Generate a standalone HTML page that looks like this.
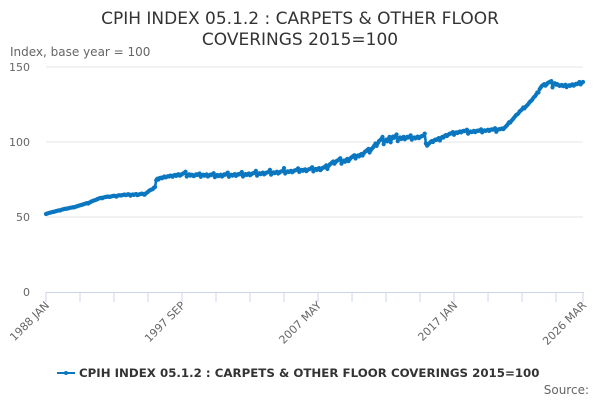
<!DOCTYPE html>
<html><head><meta charset="utf-8"><style>
body{margin:0;background:#fff;font-family:"Liberation Sans","DejaVu Sans",sans-serif}
svg{display:block}
</style></head><body>
<svg id="chart" width="600" height="400" viewBox="0 0 600 400">
<text x="300" y="24" text-anchor="middle" font-size="17" fill="#333" font-family="DejaVu Sans, sans-serif">CPIH INDEX 05.1.2 : CARPETS &amp; OTHER FLOOR</text>
<text x="300" y="45" text-anchor="middle" font-size="17" fill="#333" font-family="DejaVu Sans, sans-serif">COVERINGS 2015=100</text>
<text x="10" y="56" font-size="12" fill="#666" font-family="DejaVu Sans, sans-serif">Index, base year = 100</text>
<g id="grid"></g><g id="xaxis"></g><g id="series"></g>
<g>
<line x1="57" y1="373" x2="75" y2="373" stroke="#0a77c0" stroke-width="2"/>
<circle cx="66" cy="373" r="2" fill="#0a77c0"/>
<text x="79" y="377" font-size="11.8" font-weight="bold" fill="#333" font-family="DejaVu Sans, sans-serif">CPIH INDEX 05.1.2 : CARPETS &amp; OTHER FLOOR COVERINGS 2015=100</text>
</g>
<text x="589" y="394" text-anchor="end" font-size="12" fill="#666" font-family="DejaVu Sans, sans-serif">Source:</text>
</svg>
<script>
const yTicks=[0,50,100,150];
const xLabels=["1988 JAN","1997 SEP","2007 MAY","2017 JAN","2026 MAR"];
const xLabelIdx=[0,116,232,348,458];
const values=[
52.0,52.3,52.6,52.8,53.0,53.2,53.4,53.5,53.8,54.0,54.2,54.4,
54.3,54.8,55.0,55.2,55.4,55.5,55.6,55.8,56.0,56.2,56.3,56.5,
56.4,56.8,57.0,57.3,57.6,57.8,58.0,58.2,58.5,58.8,59.0,59.3,
59.0,59.6,60.0,60.4,60.8,61.0,61.3,61.6,62.0,62.3,62.6,62.8,
62.5,63.0,63.2,63.4,63.5,63.6,63.4,63.6,63.8,64.0,64.2,64.0,
63.6,64.2,64.4,64.5,64.3,64.6,64.8,65.0,64.6,64.8,65.2,65.0,
64.2,64.8,65.0,64.7,65.1,65.3,64.6,64.9,65.2,65.4,65.6,65.2,
64.8,65.6,66.2,66.8,67.5,68.0,68.3,68.6,69.5,70.0,74.5,75.5,
75.0,76.0,76.2,75.8,76.5,77.0,76.4,76.8,77.2,77.0,77.6,77.4,
76.8,77.8,78.0,77.4,78.2,78.5,77.6,78.0,78.6,79.0,79.4,80.2,
77.0,78.0,78.4,77.6,78.2,78.0,77.2,77.8,78.4,78.0,78.6,79.0,
76.8,77.8,78.2,77.6,78.0,78.4,77.0,77.6,78.2,78.0,78.6,79.2,
76.6,77.6,78.0,77.2,77.8,78.2,77.0,77.6,78.4,78.2,78.8,79.6,
76.8,77.8,78.2,77.6,78.2,78.6,77.4,78.0,78.6,78.4,79.0,80.0,
77.0,78.2,78.6,78.0,78.6,79.0,77.8,78.4,79.0,79.2,79.6,80.8,
77.6,78.8,79.2,78.6,79.2,79.6,78.4,79.0,79.6,79.8,80.2,81.4,
78.2,79.4,79.8,79.2,79.8,80.2,79.0,79.6,80.2,80.4,80.8,82.6,
79.0,80.0,80.4,80.0,80.4,80.8,79.8,80.4,81.0,81.2,81.6,82.4,
80.0,81.0,81.4,80.8,81.4,81.8,80.6,81.2,81.8,82.0,82.4,83.2,
80.4,81.6,82.0,81.4,82.2,82.6,81.2,82.0,82.8,83.0,83.6,84.4,
82.0,84.0,85.0,85.6,86.4,87.0,85.6,86.6,87.4,87.8,88.4,89.2,
85.6,87.0,87.6,86.8,88.0,88.8,87.2,88.4,89.4,90.0,90.6,91.2,
89.0,90.4,91.0,90.4,91.4,92.0,91.0,92.4,93.4,94.0,94.6,95.4,
93.0,94.6,95.6,96.4,97.6,99.0,97.4,99.2,100.6,101.2,102.0,103.4,
98.6,100.6,101.6,100.4,102.0,103.4,99.8,102.2,103.6,102.8,104.0,105.0,
100.6,102.4,103.0,102.0,102.8,103.4,101.8,102.6,103.4,103.0,103.6,104.4,
101.6,102.6,103.0,102.4,103.0,103.6,102.6,103.2,103.8,104.0,104.4,105.6,
99.0,97.6,98.4,99.2,100.0,100.6,100.0,101.0,101.6,101.4,102.0,102.6,
101.0,102.6,103.4,103.0,104.0,104.6,104.0,104.8,105.4,105.6,106.0,106.6,
104.8,106.0,106.4,106.0,106.6,107.0,106.4,107.0,107.4,107.2,107.6,108.2,
105.6,106.6,107.0,106.6,107.0,107.4,106.6,107.2,107.6,107.4,107.8,108.4,
106.4,107.4,107.8,107.4,107.8,108.2,107.4,108.0,108.4,108.2,108.6,109.2,
106.8,108.0,108.4,108.6,108.8,109.0,108.6,109.4,110.2,111.0,112.0,113.2,
113.0,114.2,115.0,116.0,117.0,118.0,118.4,119.2,120.4,121.0,121.8,123.0,
122.4,123.4,124.2,125.0,126.0,127.0,127.6,128.6,129.8,130.4,131.6,133.0,
133.0,135.2,136.4,137.4,138.0,138.6,137.6,138.4,139.4,139.8,140.2,140.6,
136.4,138.6,139.2,138.2,138.6,138.0,137.4,137.8,138.0,137.2,137.6,138.2,
136.6,137.4,137.8,137.4,138.0,138.4,137.6,138.2,138.8,138.6,139.2,140.0,
138.4,139.6,140.0];
const NS="http://www.w3.org/2000/svg";
const X0=46,X1=583,Y0=292,Y1=67;
const n=values.length;
function xs(i){return X0+(X1-X0)*i/(n-1);}
function ys(v){return Y0-(Y0-Y1)*v/150;}
function mk(t,a,p){const e=document.createElementNS(NS,t);for(const k in a)e.setAttribute(k,a[k]);p.appendChild(e);return e;}
const grid=document.getElementById('grid');
yTicks.forEach(t=>{
  if(t>0){const g=mk('line',{x1:X0,x2:X1,y1:ys(t),y2:ys(t),stroke:'#e6e6e6'},grid);
  
  }
  const l=mk('text',{x:30,y:ys(t)+4,'text-anchor':'end','font-size':11,fill:'#666','font-family':'DejaVu Sans, sans-serif'},grid);
  l.textContent=t;
  
  
});
const xa=document.getElementById('xaxis');
const ax=mk('line',{x1:X0,x2:X1+1,y1:Y0+0.5,y2:Y0+0.5,stroke:'#ccd6eb'},xa);


for(let m=0;m<=n-1;m+=29){
  const tk=mk('line',{x1:xs(m),x2:xs(m),y1:Y0,y2:Y0+10,stroke:'#ccd6eb'},xa);
  
  
}
const tkEnd=mk('line',{x1:xs(n-1),x2:xs(n-1),y1:Y0,y2:Y0+10,stroke:'#ccd6eb'},xa);


xLabels.forEach((s,k)=>{
  const x=xs(xLabelIdx[k])+4,y=Y0+14;
  const t=mk('text',{x:x,y:y,'text-anchor':'end','font-size':11,fill:'#666','font-family':'DejaVu Sans, sans-serif',transform:`rotate(-45 ${x} ${y})`},xa);
  t.textContent=s;
  
  
});
const ser=document.getElementById('series');
const d=values.map((v,i)=>(i?'L':'M')+xs(i).toFixed(2)+' '+ys(v).toFixed(2)).join(' ');
const p=mk('path',{d:d,fill:'none',stroke:'#0a77c0','stroke-width':2.6,'stroke-linejoin':'round'},ser);


values.forEach((v,i)=>{
  const c=mk('circle',{cx:xs(i),cy:ys(v),r:2.1,fill:'#0a77c0'},ser);
  
  
});
</script>
</body></html>
